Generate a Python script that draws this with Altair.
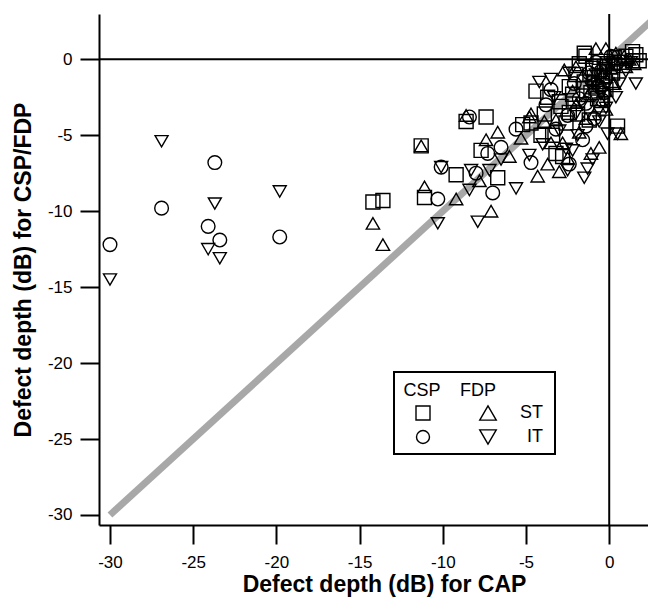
import altair as alt
import pandas as pd

# ---- data ----
sq_x = [-14.2, -13.6, -11.3, -11.1, -9.2, -8.6, -7.4, -7.7, -6.7, -4.4, -4.7, -3.7, -2.9, -2.4, 0.5, -4.1, -3.4, -3.2, -2.8, -1.5, -1.4, -1.8, 1.4, 1.6, 1.0, 1.4, 1.8, 0.3, 0.6, 0.9, -0.3, -0.6, -0.9, -0.4, -0.2, -1.1, -0.7, -1.5, -2.0, -2.4, -3.0, -1.9, -0.5, 0.2, -0.1, -5.2, -3.9, -2.6, -1.2, -0.8, -0.3, -1.0, 0.1, -2.2]
sq_y = [-9.4, -9.3, -5.7, -9.1, -7.6, -4.1, -3.8, -6.0, -7.8, -2.1, -4.2, -2.5, -3.1, -3.5, -4.4, -5.0, -5.0, -6.2, -6.4, 0.4, 0.2, -0.3, 0.5, 0.3, 0.2, -0.1, -0.1, 0.1, -0.2, -0.4, -0.5, -0.8, -1.2, -1.6, -2.0, -2.2, -2.6, -1.5, -1.0, -1.8, -2.8, -3.6, -3.0, -0.9, -0.3, -4.3, -3.6, -4.2, -4.0, -1.9, -1.1, -0.6, -1.4, -2.3]

ci_x = [-30.0, -26.9, -23.7, -24.1, -23.4, -19.8, -10.3, -10.1, -8.4, -8.0, -7.3, -6.5, -7.0, -5.6, -4.7, -3.8, -0.9, -1.4, -2.4, -0.5, -1.0, -0.3, -1.8, -2.5, 0.4, -0.8, -1.4, -3.2, -0.2, -0.6, -1.2, 0.1, -2.1, -3.5, -1.6, -0.4]
ci_y = [-12.2, -9.8, -6.8, -11.0, -11.9, -11.7, -9.2, -7.1, -3.8, -7.5, -6.2, -5.8, -8.8, -4.6, -6.8, -3.0, -3.9, -4.4, -6.9, -0.8, -1.5, -2.2, -2.6, -3.7, -0.3, -0.2, -2.9, -4.6, -1.2, -1.8, -0.9, 0.2, -1.6, -2.0, -5.3, -2.7]

tu_x = [-14.2, -13.6, -11.3, -11.1, -9.2, -8.6, -7.4, -6.7, -7.8, -7.1, -4.7, -4.3, -4.8, -2.7, -2.0, -0.8, -0.2, -3.9, -3.2, -3.5, -2.8, -3.0, 0.7, 0.4, 0.9, 1.2, 1.5, 0.1, -0.4, -0.7, -1.0, -1.3, -0.5, -0.2, -1.6, -2.2, -0.9, -1.8, -2.5, -0.6, 0.3, 1.0, -1.1, -3.7, -5.3, -6.0, -2.0, -1.4]
tu_y = [-10.8, -12.2, -5.7, -8.4, -9.2, -3.7, -5.3, -4.8, -8.0, -10.0, -3.6, -7.7, -3.8, -0.7, -0.5, 0.7, 0.7, -4.1, -4.0, -5.5, -5.5, -7.4, -4.9, 0.4, 0.2, 0.0, -0.3, -0.6, -0.9, -1.4, -1.9, -2.4, -2.8, -3.3, -1.1, -2.1, -3.6, -4.8, -6.5, -5.8, -1.6, -0.5, -6.2, -6.9, -5.2, -6.4, -3.0, -3.9]

td_x = [-30.0, -26.9, -23.7, -24.1, -23.4, -19.8, -10.3, -10.1, -8.3, -7.2, -8.4, -7.9, -6.5, -5.6, -4.8, 0.6, 1.6, 0.4, -0.1, 0.5, -2.4, -3.5, -4.2, -3.0, -2.6, -2.2, -2.5, -1.3, -0.3, -0.8, -1.1, -0.5, -1.6, -2.0, 0.2, 1.0, 1.3, -0.2, -0.6, -1.9, -3.3, -1.0, -4.0, -1.5]
td_y = [-14.5, -5.4, -9.5, -12.5, -13.1, -8.7, -10.8, -7.1, -7.3, -7.3, -8.6, -10.7, -6.6, -8.5, -6.3, -1.6, -1.6, -2.5, -4.9, -4.9, -0.9, -1.3, -1.5, -4.7, -5.9, -6.0, -7.3, -7.2, -0.6, -1.0, -1.8, -2.3, -2.9, -3.6, -0.3, -0.8, -0.2, -3.2, -4.1, -5.0, -2.5, -6.6, -5.6, -7.8]

series_names = ["CSP ST", "CSP IT", "FDP ST", "FDP IT"]
tick_values = [-30, -25, -20, -15, -10, -5, 0]
diag_x = [-30, 3]
diag_y = [-30, 3]
zero_line = [0]

# ---- build tables ----
frames = []
for name, xs, ys in [("CSP ST", sq_x, sq_y), ("CSP IT", ci_x, ci_y),
                     ("FDP ST", tu_x, tu_y), ("FDP IT", td_x, td_y)]:
    frames.append(pd.DataFrame({"x": xs, "y": ys, "s": name}))
pts = pd.concat(frames, ignore_index=True)
diag = pd.DataFrame({"x": diag_x, "y": diag_y})
zero = pd.DataFrame({"v": zero_line})

F = "Liberation Sans"
xscale = alt.Scale(domain=[-30.66, 2.33], nice=False, zero=False)
yscale = alt.Scale(domain=[-30.66, 2.98], nice=False, zero=False)

common_axis = dict(values=tick_values, labelExpr="datum.value", tickSize=19, tickWidth=2,
                   domainWidth=2, tickColor="black", domainColor="black", labelColor="black",
                   titleColor="black", labelFontSize=17, labelFont=F, titleFont=F,
                   titleFontSize=23, titleFontWeight="bold", grid=False)

xaxis = alt.Axis(title="Defect depth (dB) for CAP", labelPadding=10, titlePadding=3,
                 titleX=285, **common_axis)
yaxis = alt.Axis(title="Defect depth (dB) for CSP/FDP", labelPadding=8, titlePadding=12,
                 **common_axis)

diag_layer = alt.Chart(diag).mark_line(color="#a8a8a8", strokeWidth=7, strokeCap="butt").encode(
    x=alt.X("x:Q", scale=xscale, axis=xaxis),
    y=alt.Y("y:Q", scale=yscale, axis=yaxis),
)

vrule = alt.Chart(zero).mark_rule(color="black", strokeWidth=2).encode(
    x=alt.X("v:Q", scale=xscale))
hrule = alt.Chart(zero).mark_rule(color="black", strokeWidth=2).encode(
    y=alt.Y("v:Q", scale=yscale))

points = alt.Chart(pts).mark_point(filled=False, color="black", strokeWidth=1.4, opacity=1).encode(
    x=alt.X("x:Q", scale=xscale),
    y=alt.Y("y:Q", scale=yscale),
    shape=alt.Shape("s:N", scale=alt.Scale(domain=series_names,
                    range=["square", "circle", "triangle-up", "triangle-down"]), legend=None),
    size=alt.Size("s:N", scale=alt.Scale(domain=series_names, range=[196, 169, 272, 272]),
                  legend=None),
)

# ---- hand-drawn legend box ----
one = pd.DataFrame({"a": [0]})
box = alt.Chart(one).mark_rect(fill="white", stroke="black", strokeWidth=2).encode(
    x=alt.value(295), x2=alt.value(456), y=alt.value(358), y2=alt.value(440))

def txt(t, x, y, align="center"):
    return alt.Chart(one).mark_text(font=F, fontSize=18, color="black", align=align,
                                    baseline="middle").encode(
        x=alt.value(x), y=alt.value(y), text=alt.value(t))

def sym(shape, size, x, y):
    return alt.Chart(one).mark_point(shape=shape, size=size, filled=False, color="black",
                                     strokeWidth=1.4, opacity=1).encode(
        x=alt.value(x), y=alt.value(y))

legend = [box,
          txt("CSP", 323, 377), txt("FDP", 379, 377),
          sym("square", 196, 324, 399), sym("circle", 169, 324, 423),
          sym("triangle-up", 272, 389, 399), sym("triangle-down", 272, 389, 423),
          txt("ST", 444, 399, "right"), txt("IT", 444, 423, "right")]

chart = alt.layer(diag_layer, vrule, hrule, points, *legend).properties(
    width=549, height=511, autosize="none",
    padding={"left": 91, "top": 6, "right": 0, "bottom": 76},
).configure_view(strokeWidth=0)

chart.save("out.html", embed_options={"renderer": "svg", "actions": False})
